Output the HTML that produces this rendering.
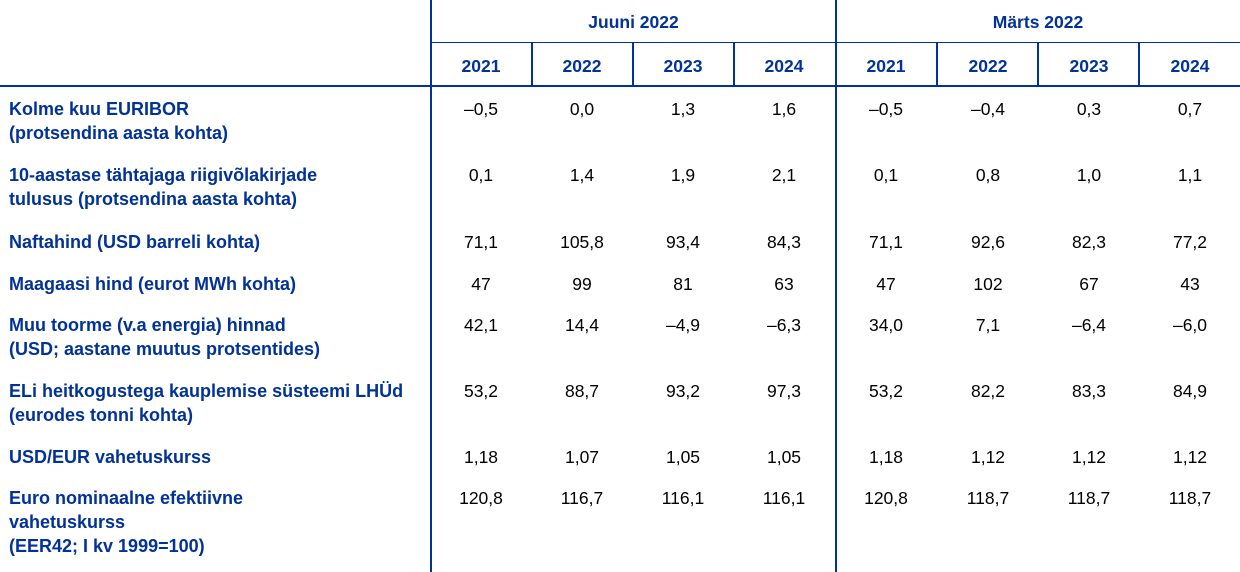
<!DOCTYPE html>
<html><head><meta charset="utf-8"><style>
body{margin:0;width:1240px;height:572px;background:#fff;position:relative;overflow:hidden;font-family:"Liberation Sans",sans-serif;}
.l{position:absolute;background:#003299;}
.t{position:absolute;font-size:17.5px;line-height:24px;white-space:nowrap;}
.b{font-weight:bold;color:#003299;}
.lb{font-size:18px;}
.n{width:100px;text-align:center;color:#000;}
</style></head><body>
<div class="l" style="left:430px;top:0;width:2px;height:572px"></div>
<div class="l" style="left:835px;top:0;width:2px;height:572px"></div>
<div class="l" style="left:431px;top:42px;width:809px;height:1px"></div>
<div class="l" style="left:0;top:85px;width:1240px;height:2px"></div>
<div class="l" style="left:531px;top:42px;width:1.5px;height:44px"></div>
<div class="l" style="left:632px;top:42px;width:1.5px;height:44px"></div>
<div class="l" style="left:733px;top:42px;width:1.5px;height:44px"></div>
<div class="l" style="left:936px;top:42px;width:1.5px;height:44px"></div>
<div class="l" style="left:1037px;top:42px;width:1.5px;height:44px"></div>
<div class="l" style="left:1138px;top:42px;width:1.5px;height:44px"></div>
<div class="t b" style="left:431px;width:405px;text-align:center;top:10px">Juuni 2022</div>
<div class="t b" style="left:836px;width:404px;text-align:center;top:10px">Märts 2022</div>
<div id="c"></div>
<script>
var cx=[481,582,683,784,886,988,1089,1190];
var h='';
["2021","2022","2023","2024","2021","2022","2023","2024"].forEach(function(y,i){h+='<div class="t b" style="left:'+(cx[i]-50)+'px;width:100px;text-align:center;top:54px">'+y+'</div>';});
var rows=[
[97,["Kolme kuu EURIBOR","(protsendina aasta kohta)"],["–0,5","0,0","1,3","1,6","–0,5","–0,4","0,3","0,7"]],
[163,["10-aastase tähtajaga riigivõlakirjade","tulusus (protsendina aasta kohta)"],["0,1","1,4","1,9","2,1","0,1","0,8","1,0","1,1"]],
[230,["Naftahind (USD barreli kohta)"],["71,1","105,8","93,4","84,3","71,1","92,6","82,3","77,2"]],
[272,["Maagaasi hind (eurot MWh kohta)"],["47","99","81","63","47","102","67","43"]],
[313,["Muu toorme (v.a energia) hinnad","(USD; aastane muutus protsentides)"],["42,1","14,4","–4,9","–6,3","34,0","7,1","–6,4","–6,0"]],
[379,["ELi heitkogustega kauplemise süsteemi LHÜd","(eurodes tonni kohta)"],["53,2","88,7","93,2","97,3","53,2","82,2","83,3","84,9"]],
[445,["USD/EUR vahetuskurss"],["1,18","1,07","1,05","1,05","1,18","1,12","1,12","1,12"]],
[486,["Euro nominaalne efektiivne","vahetuskurss","(EER42; I kv 1999=100)"],["120,8","116,7","116,1","116,1","120,8","118,7","118,7","118,7"]]
];
rows.forEach(function(r){
 r[1].forEach(function(s,j){h+='<div class="t b lb" style="left:9px;top:'+(r[0]+j*24)+'px">'+s+'</div>';});
 r[2].forEach(function(v,i){h+='<div class="t n" style="left:'+(cx[i]-50)+'px;top:'+r[0]+'px">'+v+'</div>';});
});
document.getElementById('c').innerHTML=h;
</script>
</body></html>
